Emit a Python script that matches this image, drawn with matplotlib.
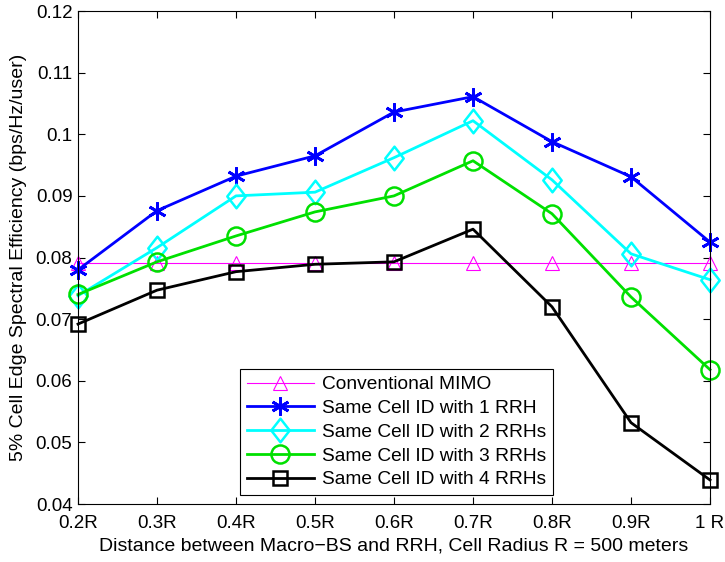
import matplotlib
matplotlib.use("Agg")
import matplotlib.pyplot as plt
from matplotlib.path import Path

plt.rcParams['font.family'] = ['Liberation Sans', 'DejaVu Sans']

x_labels = ['0.2R', '0.3R', '0.4R', '0.5R', '0.6R', '0.7R', '0.8R', '0.9R', '1 R']
x = [0.2, 0.3, 0.4, 0.5, 0.6, 0.7, 0.8, 0.9, 1.0]
conventional = [0.0791] * 9
rrh1 = [0.0780, 0.0876, 0.0932, 0.0965, 0.1036, 0.1061, 0.0988, 0.0931, 0.0825]
rrh2 = [0.0738, 0.0816, 0.0900, 0.0906, 0.0962, 0.1022, 0.0926, 0.0806, 0.0764]
rrh3 = [0.0740, 0.0793, 0.0835, 0.0874, 0.0900, 0.0957, 0.0871, 0.0736, 0.0618]
rrh4 = [0.0692, 0.0747, 0.0777, 0.0789, 0.0793, 0.0846, 0.0720, 0.0532, 0.0439]

diamond = Path([(0, 1), (0.78, 0), (0, -1), (-0.78, 0), (0, 1)],
               [Path.MOVETO, Path.LINETO, Path.LINETO, Path.LINETO, Path.CLOSEPOLY])

fig = plt.figure(figsize=(7.25, 5.62), dpi=100)
ax = fig.add_axes([0.1076, 0.1032, 0.8717, 0.8772])

common = dict(clip_on=False, mfc='none')
ax.plot(x, conventional, color='#ff00ff', lw=0.8, marker='^', ms=10, mew=0.8,
        label='Conventional MIMO', **common)
ax.plot(x, rrh1, color='#0000ff', lw=2, marker=(6, 2, 0), ms=13, mew=2,
        label='Same Cell ID with 1 RRH', **common)
ax.plot(x, rrh2, color='#00ffff', lw=2, marker=diamond, ms=17, mew=1.8,
        label='Same Cell ID with 2 RRHs', **common)
ax.plot(x, rrh3, color='#00e000', lw=2, marker='o', ms=13, mew=1.8,
        label='Same Cell ID with 3 RRHs', **common)
ax.plot(x, rrh4, color='#000000', lw=2, marker='s', ms=10, mew=1.8,
        label='Same Cell ID with 4 RRHs', **common)

ax.set_xlim(0.2, 1.0)
ax.set_ylim(0.04, 0.12)
ax.set_xticks(x)
ax.set_xticklabels(x_labels)
ax.set_yticks([0.04, 0.05, 0.06, 0.07, 0.08, 0.09, 0.1, 0.11, 0.12])
ax.set_yticklabels(['0.04', '0.05', '0.06', '0.07', '0.08', '0.09', '0.1', '0.11', '0.12'])
ax.tick_params(direction='in', top=True, right=True, labelsize=13.5, length=5)
ax.tick_params(axis='x', pad=8)
ax.tick_params(axis='y', pad=4)
ax.set_xlabel('Distance between Macro\u2212BS and RRH, Cell Radius R = 500 meters',
              fontsize=14, labelpad=4)
ax.set_ylabel('5% Cell Edge Spectral Efficiency (bps/Hz/user)', fontsize=14, labelpad=6)

leg = ax.legend(loc='lower left', bbox_to_anchor=(0.256, 0.018), borderaxespad=0,
                fontsize=13.8, fancybox=False, edgecolor='black', framealpha=1,
                handlelength=3.5, labelspacing=0.33, borderpad=0.35, handletextpad=0.45,
                numpoints=1)
leg.get_frame().set_linewidth(0.8)

fig.savefig('out.png', dpi=100)
